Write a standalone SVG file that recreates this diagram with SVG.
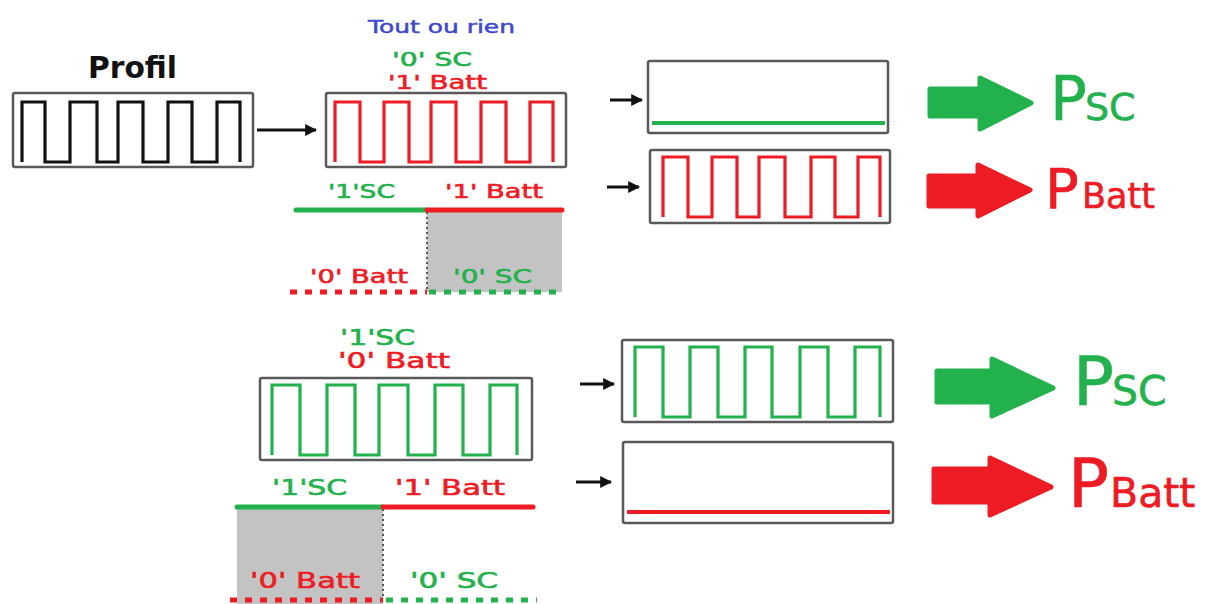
<svg xmlns="http://www.w3.org/2000/svg" width="1207" height="604" viewBox="0 0 1207 604">
<style>
text{font-family:"DejaVu Sans","Liberation Sans",sans-serif}
.box{fill:#fff;stroke:#595959;stroke-width:2.5}
.wk{fill:none;stroke:#111;stroke-width:3.2}
.wr{fill:none;stroke:#ed1c24;stroke-width:3.2}
.wg{fill:none;stroke:#22b14c;stroke-width:3.2}
.lg{stroke:#22b14c;stroke-width:5;stroke-linecap:round}
.lr{stroke:#ed1c24;stroke-width:5;stroke-linecap:round}
.dg{stroke:#22b14c;stroke-width:5;stroke-dasharray:7 8}
.dr{stroke:#ed1c24;stroke-width:5;stroke-dasharray:7 8}
.dot{stroke:#555;stroke-width:2;stroke-dasharray:2 3}
.shade{fill:#c3c3c3}
.tg{fill:#22b14c;stroke:#22b14c;stroke-width:0.6}
.tr{fill:#ed1c24;stroke:#ed1c24;stroke-width:0.6}
.tb{fill:#3f48cc;stroke:#3f48cc;stroke-width:0.5}
.ar{stroke:#111;stroke-width:3;marker-end:url(#ah)}
.bg{fill:#22b14c;stroke:#22b14c;stroke-width:5;stroke-linejoin:round}
.brd{fill:#ed1c24;stroke:#ed1c24;stroke-width:5;stroke-linejoin:round}
</style>
<defs>
<marker id="ah" viewBox="0 0 10 10" refX="9" refY="5" markerWidth="4" markerHeight="4" orient="auto" markerUnits="strokeWidth">
<path d="M0,0 L10,5 L0,10 Z" fill="#111"/>
</marker>
</defs>
<rect width="1207" height="604" fill="#fff"/>

<g id="profil">
<text x="88" y="78" font-size="31" font-weight="bold" fill="#111" textLength="89" lengthAdjust="spacingAndGlyphs">Profil</text>
<rect class="box" x="13" y="93" width="240" height="74" rx="2"/>
<path class="wk" d="M22,162 V102 H45 V162 H70 V102 H97 V162 H118 V102 H143 V162 H168 V102 H192 V162 H217 V102 H240 V162"/>
</g>

<g id="tout-ou-rien">
<text class="tb" x="368" y="33" font-size="18" textLength="147" lengthAdjust="spacingAndGlyphs">Tout ou rien</text>
<text class="tg" x="392" y="66" font-size="20" textLength="80" lengthAdjust="spacingAndGlyphs">'0' SC</text>
<text class="tr" x="388" y="89" font-size="20" textLength="99" lengthAdjust="spacingAndGlyphs">'1' Batt</text>
<rect class="box" x="326" y="93" width="240" height="74" rx="2"/>
<path class="wr" d="M335,162 V102 H360 V162 H384 V102 H409 V162 H431 V102 H456 V162 H481 V102 H506 V162 H530 V102 H553 V162"/>
</g>

<g id="timeline-1">
<rect class="shade" x="427" y="210" width="135" height="82"/>
<line class="dot" x1="427" y1="212" x2="427" y2="290"/>
<line class="lg" x1="296" y1="210" x2="427" y2="210"/>
<line class="lr" x1="427" y1="210" x2="562" y2="210"/>
<line class="dr" x1="290" y1="292" x2="427" y2="292"/>
<line class="dg" x1="429" y1="292" x2="564" y2="292"/>
<text class="tg" x="328" y="198" font-size="20" textLength="67" lengthAdjust="spacingAndGlyphs">'1'SC</text>
<text class="tr" x="445" y="198" font-size="20" textLength="98" lengthAdjust="spacingAndGlyphs">'1' Batt</text>
<text class="tr" x="310" y="283" font-size="20" textLength="98" lengthAdjust="spacingAndGlyphs">'0' Batt</text>
<text class="tg" x="453" y="283" font-size="20" textLength="79" lengthAdjust="spacingAndGlyphs">'0' SC</text>
</g>

<g id="sortie-sc-1">
<rect class="box" x="648" y="61" width="240" height="72" rx="2"/>
<line stroke="#22b14c" stroke-width="4" x1="652" y1="123" x2="885" y2="123"/>
</g>

<g id="sortie-batt-1">
<rect class="box" x="650" y="150" width="240" height="73" rx="2"/>
<path class="wr" d="M663,217 V157 H688 V217 H712 V157 H737 V217 H759 V157 H785 V217 H811 V157 H835 V217 H858 V157 H880 V217"/>
</g>

<g id="label-psc-1">
<text class="tg" x="1050" y="120" font-size="61">P<tspan x="1085" font-size="38">SC</tspan></text>
</g>
<g id="label-pbatt-1">
<text class="tr" x="1045" y="208" font-size="56">P<tspan x="1082" font-size="35">Batt</tspan></text>
</g>

<g id="sc-mode">
<text class="tg" x="340" y="345" font-size="22" textLength="75" lengthAdjust="spacingAndGlyphs">'1'SC</text>
<text class="tr" x="338" y="368" font-size="22" textLength="112" lengthAdjust="spacingAndGlyphs">'0' Batt</text>
<rect class="box" x="260" y="378" width="272" height="82" rx="2"/>
<path class="wg" d="M272,455 V385 H300 V455 H327 V385 H355 V455 H379 V385 H408 V455 H435 V385 H463 V455 H490 V385 H517 V455"/>
</g>

<g id="timeline-2">
<rect class="shade" x="237" y="507" width="146" height="97"/>
<line class="dot" x1="383" y1="509" x2="383" y2="598"/>
<line class="lg" x1="237" y1="507" x2="383" y2="507"/>
<line class="lr" x1="383" y1="507" x2="533" y2="507"/>
<line class="dr" x1="230" y1="600" x2="383" y2="600"/>
<line class="dg" x1="386" y1="600" x2="537" y2="600"/>
<text class="tg" x="272" y="495" font-size="22" textLength="75" lengthAdjust="spacingAndGlyphs">'1'SC</text>
<text class="tr" x="395" y="495" font-size="22" textLength="110" lengthAdjust="spacingAndGlyphs">'1' Batt</text>
<text class="tr" x="250" y="588" font-size="22" textLength="110" lengthAdjust="spacingAndGlyphs">'0' Batt</text>
<text class="tg" x="410" y="588" font-size="22" textLength="88" lengthAdjust="spacingAndGlyphs">'0' SC</text>
</g>

<g id="sortie-sc-2">
<rect class="box" x="622" y="340" width="271" height="82" rx="2"/>
<path class="wg" d="M635,417 V347 H663 V417 H690 V347 H718 V417 H745 V347 H772 V417 H800 V347 H828 V417 H855 V347 H880 V417"/>
</g>

<g id="sortie-batt-2">
<rect class="box" x="623" y="442" width="270" height="81" rx="2"/>
<line stroke="#ed1c24" stroke-width="4" x1="627" y1="512" x2="890" y2="512"/>
</g>

<g id="label-psc-2">
<text class="tg" x="1073" y="405" font-size="68">P<tspan x="1112" font-size="41">SC</tspan></text>
</g>
<g id="label-pbatt-2">
<text class="tr" x="1068" y="507" font-size="68">P<tspan x="1110" font-size="41">Batt</tspan></text>
</g>

<g id="connectors">
<line class="ar" x1="257" y1="130" x2="316" y2="130"/>
<line class="ar" x1="610" y1="100" x2="642" y2="100"/>
<line class="ar" x1="607" y1="187" x2="639" y2="187"/>
<line class="ar" x1="580" y1="384" x2="614" y2="384"/>
<line class="ar" x1="576" y1="482" x2="611" y2="482"/>
<path class="bg" d="M930,89 H980 V78 L1031,103 L980,129 V116 H930 Z"/>
<path class="brd" d="M929,176 H978 V165 L1030,190 L978,216 V206 H929 Z"/>
<path class="bg" d="M937,371 H992 V359 L1053,388 L992,416 V402 H937 Z"/>
<path class="brd" d="M934,469 H990 V458 L1051,487 L990,515 V502 H934 Z"/>
</g>
</svg>
